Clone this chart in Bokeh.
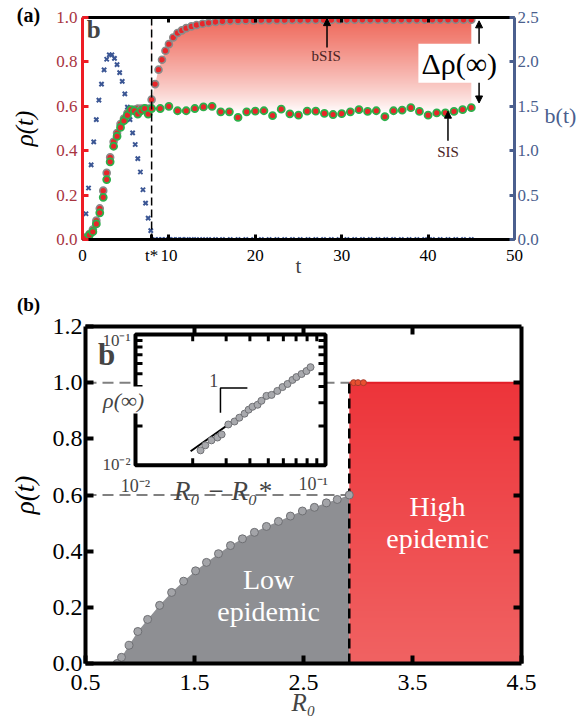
import numpy as np
from bokeh.plotting import figure
from bokeh.layouts import column, row
from bokeh.models import (Range1d, LinearAxis, LogScale, FixedTicker, Label, Arrow,
                          NormalHead, Span, PrintfTickFormatter)
from bokeh.embed import file_html
from bokeh.resources import INLINE

SERIF = "Liberation Serif"

# ---------------- panel (a) data ----------------
t_star = 8.0
t_early = [0.0, 0.4, 0.8, 1.2, 1.6, 2.0, 2.4, 2.8, 3.2, 3.6, 4.0, 4.4, 4.8, 5.2, 5.6,
           6.0, 6.4, 6.8, 7.2, 7.6, 8.0]
bsis_early = [0.0, 0.01, 0.025, 0.045, 0.085, 0.14, 0.22, 0.30, 0.37, 0.44, 0.48, 0.52,
              0.545, 0.57, 0.58, 0.585, 0.59, 0.59, 0.59, 0.59, 0.63]
sis_early = [0.0, 0.005, 0.02, 0.035, 0.07, 0.12, 0.19, 0.27, 0.35, 0.42, 0.465, 0.505,
             0.535, 0.56, 0.585, 0.58, 0.565, 0.58, 0.59, 0.565, 0.59]

t_late = [8.4, 8.8, 9.2, 9.6, 10.0, 10.5, 11.0, 11.5, 12.0, 12.6, 13.2, 13.9, 14.6, 15.4,
          16.2, 17.1, 18.0, 18.9, 19.8, 20.7, 21.6, 22.5, 23.4, 24.3, 25.2, 26.1, 27.0,
          27.9, 28.8, 29.7, 30.6, 31.5, 32.4, 33.3, 34.2, 35.1, 36.0, 36.9, 37.8, 38.7,
          39.6, 40.5, 41.4, 42.3, 43.2, 44.1, 45.0]
bsis_late = [0.70, 0.765, 0.81, 0.85, 0.88, 0.91, 0.93, 0.942, 0.952, 0.96, 0.966, 0.972,
             0.976, 0.98, 0.983, 0.985, 0.986, 0.987, 0.987, 0.988, 0.988, 0.988, 0.988,
             0.989, 0.989, 0.989, 0.989, 0.989, 0.989, 0.989, 0.989, 0.99, 0.99, 0.99,
             0.99, 0.99, 0.99, 0.99, 0.99, 0.99, 0.99, 0.99, 0.99, 0.99, 0.99, 0.99, 0.99]

t_sis = [9, 10, 11, 12, 13, 14, 15, 16, 17, 18, 19, 20, 21, 22, 23, 24, 25, 26, 27, 28,
         29, 30, 31, 32, 33, 34, 35, 36, 37, 38, 39, 40, 41, 42, 43, 44, 45]
sis_late = [0.59, 0.60, 0.58, 0.58, 0.59, 0.597, 0.60, 0.575, 0.575, 0.55, 0.575, 0.578,
            0.58, 0.558, 0.587, 0.566, 0.56, 0.578, 0.578, 0.568, 0.563, 0.567, 0.575,
            0.585, 0.577, 0.58, 0.553, 0.58, 0.583, 0.594, 0.577, 0.56, 0.57, 0.57,
            0.577, 0.585, 0.594]

t_b = [0.0, 0.4, 0.7, 1.0, 1.3, 1.6, 1.9, 2.2, 2.5, 2.8, 3.1, 3.4, 3.7, 4.0, 4.3, 4.6,
       4.9, 5.2, 5.5, 5.8, 6.1, 6.4, 6.7, 7.0, 7.3, 7.6, 7.9]
b_vals = [0.0, 0.29, 0.58, 0.84, 1.10, 1.35, 1.57, 1.75, 1.91, 2.03, 2.08, 2.08, 2.04,
          1.97, 1.88, 1.78, 1.64, 1.49, 1.35, 1.20, 1.07, 0.91, 0.76, 0.56, 0.41, 0.24, 0.10]
b_late = [0.0] * len(t_late)

# ---------------- panel (b) data ----------------
R0_star = 2.92
R0_low = [0.79, 0.83, 0.90, 0.98, 1.07, 1.18, 1.29, 1.40, 1.51, 1.61, 1.72, 1.83, 1.94,
          2.05, 2.16, 2.27, 2.38, 2.49, 2.60, 2.71, 2.81, 2.92]
rho_low = [0.0, 0.022, 0.065, 0.114, 0.157, 0.207, 0.253, 0.293, 0.330, 0.360, 0.391,
           0.420, 0.444, 0.467, 0.488, 0.506, 0.525, 0.543, 0.556, 0.572, 0.584, 0.600]
R0_high = [2.96, 3.00, 3.05]
rho_high = [1.0, 1.0, 1.0]

# inset (log-log)
dR = [0.0220, 0.0233, 0.0251, 0.0270, 0.0284, 0.0308, 0.0332, 0.0352, 0.0375, 0.0394,
      0.0413, 0.0439, 0.0460, 0.0489, 0.0520, 0.0558, 0.0594, 0.0631, 0.0670, 0.0703,
      0.0748, 0.0794, 0.0834]
rho_inf = [0.0130, 0.0142, 0.0155, 0.0163, 0.0172, 0.0205, 0.0216, 0.0231, 0.0248,
           0.0266, 0.0280, 0.0290, 0.0311, 0.0339, 0.0345, 0.0370, 0.0396, 0.0418,
           0.0449, 0.0472, 0.0498, 0.0525, 0.0562]
fit_x = [0.0195, 0.084]
fit_y = [0.0128, 0.0574]


def style_axis(ax, color, width, tick_len, font_size, label_color):
    ax.axis_line_color = color
    ax.axis_line_width = width
    ax.major_tick_line_color = color
    ax.major_tick_line_width = width
    ax.major_tick_in = tick_len
    ax.major_tick_out = 0
    ax.minor_tick_line_color = None
    ax.major_label_text_font = SERIF
    ax.major_label_text_font_size = font_size
    ax.major_label_text_color = label_color


def hide_labels(ax):
    ax.major_label_text_font_size = "0px"
    ax.major_label_text_color = None
    ax.major_label_standoff = 0


def vgrad(top_rgb, bottom_rgb, n=256, gamma=1.0):
    f = np.linspace(0.0, 1.0, n) ** gamma
    img = np.empty((n, 1), dtype=np.uint32)
    v = img.view(dtype=np.uint8).reshape((n, 1, 4))
    for c in range(3):
        v[:, 0, c] = np.round(bottom_rgb[c] + (top_rgb[c] - bottom_rgb[c]) * f).astype(np.uint8)
    v[:, 0, 3] = 255
    return img


def strip(w, h, ymax):
    # narrow side figure; its frame is aligned with the neighbouring plot's frame
    s = figure(width=w, height=h, x_range=Range1d(0, w), y_range=Range1d(0, ymax),
               output_backend="svg", toolbar_location=None, min_border=0,
               x_axis_location=None, y_axis_location=None)
    s.grid.visible = False
    s.outline_line_color = None
    return s


def slabel(s, x, y, text, size, style="normal", color="black", angle=0.0):
    s.add_layout(Label(x=x, y=y, text=text, text_font=SERIF, text_font_size=size,
                       text_font_style=style, text_color=color, angle=angle,
                       text_align="center", text_baseline="middle"))


def panel_tag(s, x, text, size, standoff):
    ax = LinearAxis()
    s.add_layout(ax, "above")
    ax.ticker = FixedTicker(ticks=[x])
    ax.major_label_overrides = {x: text}
    ax.axis_line_color = None
    ax.major_tick_line_color = None
    ax.minor_tick_line_color = None
    ax.major_tick_in = 0
    ax.major_tick_out = 0
    ax.major_label_standoff = standoff
    ax.major_label_text_font = SERIF
    ax.major_label_text_font_size = size
    ax.major_label_text_font_style = "bold"
    ax.major_label_text_color = "black"


H1, H2 = 290, 435

# ======================= panel (a) =======================
p1 = figure(width=489, height=H1, x_range=Range1d(0, 50), y_range=Range1d(0, 1.0),
            output_backend="svg", toolbar_location=None,
            min_border_left=30, min_border_right=26, min_border_top=16, min_border_bottom=51)
p1.grid.visible = False
p1.outline_line_color = None
p1.extra_y_ranges = {"b": Range1d(0, 2.5)}

ax_b = p1.below[0]
style_axis(ax_b, "black", 3, 5, "17px", "black")
ax_b.ticker = FixedTicker(ticks=[0, t_star, 10, 20, 30, 40, 50])
ax_b.major_label_overrides = {t_star: "t*"}
ax_b.axis_label = "t"
ax_b.axis_label_text_font = SERIF
ax_b.axis_label_text_font_size = "21px"
ax_b.axis_label_text_font_style = "normal"
ax_b.axis_label_standoff = -14
ax_b.major_label_standoff = 6

ax_l = p1.left[0]
style_axis(ax_l, "#EE1C25", 3, 6, "17px", "#A8343F")
ax_l.ticker = FixedTicker(ticks=[0, 0.2, 0.4, 0.6, 0.8, 1.0])
ax_l.formatter = PrintfTickFormatter(format="%.1f")
ax_l.major_label_standoff = 5

ax_r = LinearAxis(y_range_name="b")
p1.add_layout(ax_r, "right")
style_axis(ax_r, "#4B5F8E", 3, 5, "17px", "#4B5F8E")
ax_r.ticker = FixedTicker(ticks=[0, 0.5, 1.0, 1.5, 2.0, 2.5])
ax_r.formatter = PrintfTickFormatter(format="%.1f")
ax_r.major_label_standoff = 3

ax_t = LinearAxis()
p1.add_layout(ax_t, "above")
style_axis(ax_t, "black", 3, 5, "17px", "black")
ax_t.ticker = FixedTicker(ticks=[10, 20, 30, 40])
hide_labels(ax_t)

# gradient between the two steady states
grad_lo = 0.575
p1.image_rgba(image=[vgrad((238, 102, 88), (255, 255, 255), gamma=0.8)],
              x=t_star, y=grad_lo, dw=t_late[-1] - t_star, dh=1.0 - grad_lo)
p1.varea(x=[t_star] + t_late, y1=[bsis_early[-1]] + bsis_late, y2=1.0, fill_color="white")

p1.add_layout(Span(location=t_star, dimension="height", line_color="black",
                   line_width=1.5, line_dash="8 4"))

p1.scatter(t_b, b_vals, y_range_name="b", marker="x", size=6, line_color="#3B5694", line_width=2)
p1.scatter(t_late, b_late, y_range_name="b", marker="x", size=6, line_color="#3B5694", line_width=2)

p1.scatter(t_early + t_late, bsis_early + bsis_late, size=7, fill_color="#E8262A",
           line_color="#8A8A8A", line_width=1.6)
p1.scatter(t_early + t_sis, sis_early + sis_late, size=7, fill_color="#E8262A",
           line_color="#2DB04B", line_width=1.8)

head = dict(size=7, fill_color="black", line_color="black")
p1.add_layout(Arrow(end=NormalHead(**head), x_start=28.3, y_start=0.865, x_end=28.3,
                    y_end=0.995, line_width=1.5))
p1.add_layout(Arrow(end=NormalHead(**head), x_start=42.3, y_start=0.445, x_end=42.3,
                    y_end=0.578, line_width=1.5))
p1.add_layout(Arrow(start=NormalHead(**head), end=NormalHead(**head), x_start=45.9,
                    y_start=0.615, x_end=45.9, y_end=0.985, line_width=1.5))

p1.add_layout(Label(x=28.2, y=0.825, text="bSIS", text_font=SERIF, text_font_size="15px",
                    text_color="#4A2424", text_align="center", text_baseline="middle"))
p1.add_layout(Label(x=42.3, y=0.396, text="SIS", text_font=SERIF, text_font_size="15px",
                    text_color="#4A2424", text_align="center", text_baseline="middle"))
p1.add_layout(Label(x=43.6, y=0.794, text="Δρ(∞)", text_font=SERIF, text_font_size="30px",
                    text_color="black", text_align="center", text_baseline="middle",
                    background_fill_color="white", padding=3))
p1.add_layout(Label(x=1.3, y=0.946, text="b", text_font=SERIF, text_font_size="25px",
                    text_font_style="bold", text_align="center", text_baseline="middle"))

sa = strip(52, H1, 1.0)
panel_tag(sa, 28, "(a)", "20px", -8)
slabel(sa, 24, 0.5, "ρ(t)", "25px", "italic", angle=np.pi / 2)
sb = strip(37, H1, 1.0)
slabel(sb, 19, 0.56, "b(t)", "22px", "normal", "#4B5F8E")

# ======================= panel (b) =======================
p2 = figure(width=529, height=H2, x_range=Range1d(0.5, 4.5), y_range=Range1d(0, 1.2),
            output_backend="svg", toolbar_location=None,
            min_border_left=36, min_border_right=57, min_border_top=33, min_border_bottom=62)
p2.grid.visible = False
p2.outline_line_color = None

bx = p2.below[0]
style_axis(bx, "black", 4, 8, "24px", "black")
bx.ticker = FixedTicker(ticks=[0.5, 1.5, 2.5, 3.5, 4.5])
bx.formatter = PrintfTickFormatter(format="%.1f")
bx.axis_label = "R₀"
bx.axis_label_text_font = SERIF
bx.axis_label_text_font_size = "25px"
bx.axis_label_text_font_style = "italic"
bx.axis_label_standoff = -4
bx.major_label_standoff = 11

ly = p2.left[0]
style_axis(ly, "black", 4, 8, "24px", "black")
ly.ticker = FixedTicker(ticks=[0, 0.2, 0.4, 0.6, 0.8, 1.0, 1.2])
ly.formatter = PrintfTickFormatter(format="%.1f")
ly.major_label_standoff = 3

tx = LinearAxis()
p2.add_layout(tx, "above")
style_axis(tx, "black", 4, 8, "24px", "black")
tx.ticker = FixedTicker(ticks=[1.5, 2.5, 3.5])
hide_labels(tx)
ry = LinearAxis()
p2.add_layout(ry, "right")
style_axis(ry, "black", 4, 8, "24px", "black")
ry.ticker = FixedTicker(ticks=[0.2, 0.4, 0.6, 0.8, 1.0])
hide_labels(ry)

# regions
p2.varea(x=R0_low, y1=0, y2=rho_low, fill_color="#8E8F93")
p2.image_rgba(image=[vgrad((237, 52, 58), (240, 98, 98))], x=R0_star, y=0,
              dw=4.5 - R0_star, dh=1.0)
p2.line([R0_star, 4.5], [1.0, 1.0], line_color="#E21E28", line_width=2)

# guide lines
p2.line([0.5, R0_star], [1.0, 1.0], line_color="#808080", line_width=2, line_dash="11 6")
p2.line([0.5, R0_star], [rho_low[-1], rho_low[-1]], line_color="#808080", line_width=2,
        line_dash="11 6")
p2.line([R0_star, R0_star], [0, 1.0], line_color="black", line_width=2.5, line_dash="10 5")

p2.scatter(R0_low, rho_low, size=8, fill_color="#A3A4A8", line_color="#6E6F73", line_width=1)
p2.scatter(R0_high, rho_high, size=6, fill_color="#E85030", line_color="#A83A2A", line_width=1)

for xx, yy, tt in [(2.18, 0.30, "Low"), (2.18, 0.185, "epidemic"),
                   (3.73, 0.56, "High"), (3.73, 0.445, "epidemic")]:
    p2.add_layout(Label(x=xx, y=yy, text=tt, text_font=SERIF, text_font_size="28px",
                        text_color="white", text_align="center", text_baseline="middle"))

# ---- inset (log-log), mapped onto a sub-box of the frame ----
FW, FH = 436.0, 340.0            # frame size in px
in_l, in_r = 50.0, 240.0         # inset box, px from frame left
in_t, in_b = 8.0, 140.0          # inset box, px from frame top
dec_x = in_r - in_l
dec_y = in_b - in_t
lx0 = -2.0 - in_l / dec_x
ly0 = -2.0 - (FH - in_b) / dec_y
p2.extra_x_ranges = {"ix": Range1d(10 ** lx0, 10 ** (lx0 + FW / dec_x))}
p2.extra_y_ranges = {"iy": Range1d(10 ** ly0, 10 ** (ly0 + FH / dec_y))}
p2.extra_x_scales = {"ix": LogScale()}
p2.extra_y_scales = {"iy": LogScale()}
IN = dict(x_range_name="ix", y_range_name="iy")

p2.quad(left=0.01, right=0.1, bottom=0.01, top=0.1, fill_color="white",
        line_color="black", line_width=4, **IN)
minor = [k * 0.01 for k in range(2, 10)]
fx = 10 ** (7.0 / dec_x)
fy = 10 ** (7.0 / dec_y)
p2.segment(x0=[0.01] * 8, x1=[0.01 * fx] * 8, y0=minor, y1=minor, line_color="black", line_width=3, **IN)
p2.segment(x0=[0.1] * 8, x1=[0.1 / fx] * 8, y0=minor, y1=minor, line_color="black", line_width=3, **IN)
p2.segment(x0=minor, x1=minor, y0=[0.01] * 8, y1=[0.01 * fy] * 8, line_color="black", line_width=3, **IN)
p2.segment(x0=minor, x1=minor, y0=[0.1] * 8, y1=[0.1 / fy] * 8, line_color="black", line_width=3, **IN)

p2.line(fit_x, fit_y, line_color="black", line_width=2, **IN)
p2.scatter(dR, rho_inf, size=7, fill_color="#A8A9AD", line_color="#707175", line_width=1, **IN)
# slope-1 marker
p2.line([0.0388, 0.0280, 0.0280], [0.0390, 0.0390, 0.0252], line_color="black", line_width=1.5, **IN)
p2.add_layout(Label(x=0.0258, y=0.0441, text="1", text_font=SERIF, text_font_size="18px",
                    text_align="center", text_baseline="middle", **IN))


def lab(x, y, text, size, style="normal", bg=None):
    kw = dict(background_fill_color=bg, padding=1) if bg else {}
    p2.add_layout(Label(x=x, y=y, text=text, text_font=SERIF, text_font_size=size,
                        text_font_style=style, text_align="center", text_baseline="middle", **kw))


lab(0.784, 1.150, "10⁻¹", "17px")
lab(0.784, 0.709, "10⁻²", "17px")
lab(0.849, 0.938, "ρ(∞)", "22px", "italic", "white")
lab(0.693, 1.10, "b", "31px", "bold")
lab(0.959, 0.631, "10⁻²", "18px")
lab(1.757, 0.614, "R₀ − R₀*", "27px", "italic")
lab(2.59, 0.638, "10⁻¹", "18px")

sbl = strip(49, H2, 1.2)
panel_tag(sbl, 28, "(b)", "19px", 12)
slabel(sbl, 24, 0.6, "ρ(t)", "27px", "italic", angle=np.pi / 2)

layout = column(row(sa, p1, sb), row(sbl, p2))
open("out.html", "w").write(file_html(layout, INLINE))
